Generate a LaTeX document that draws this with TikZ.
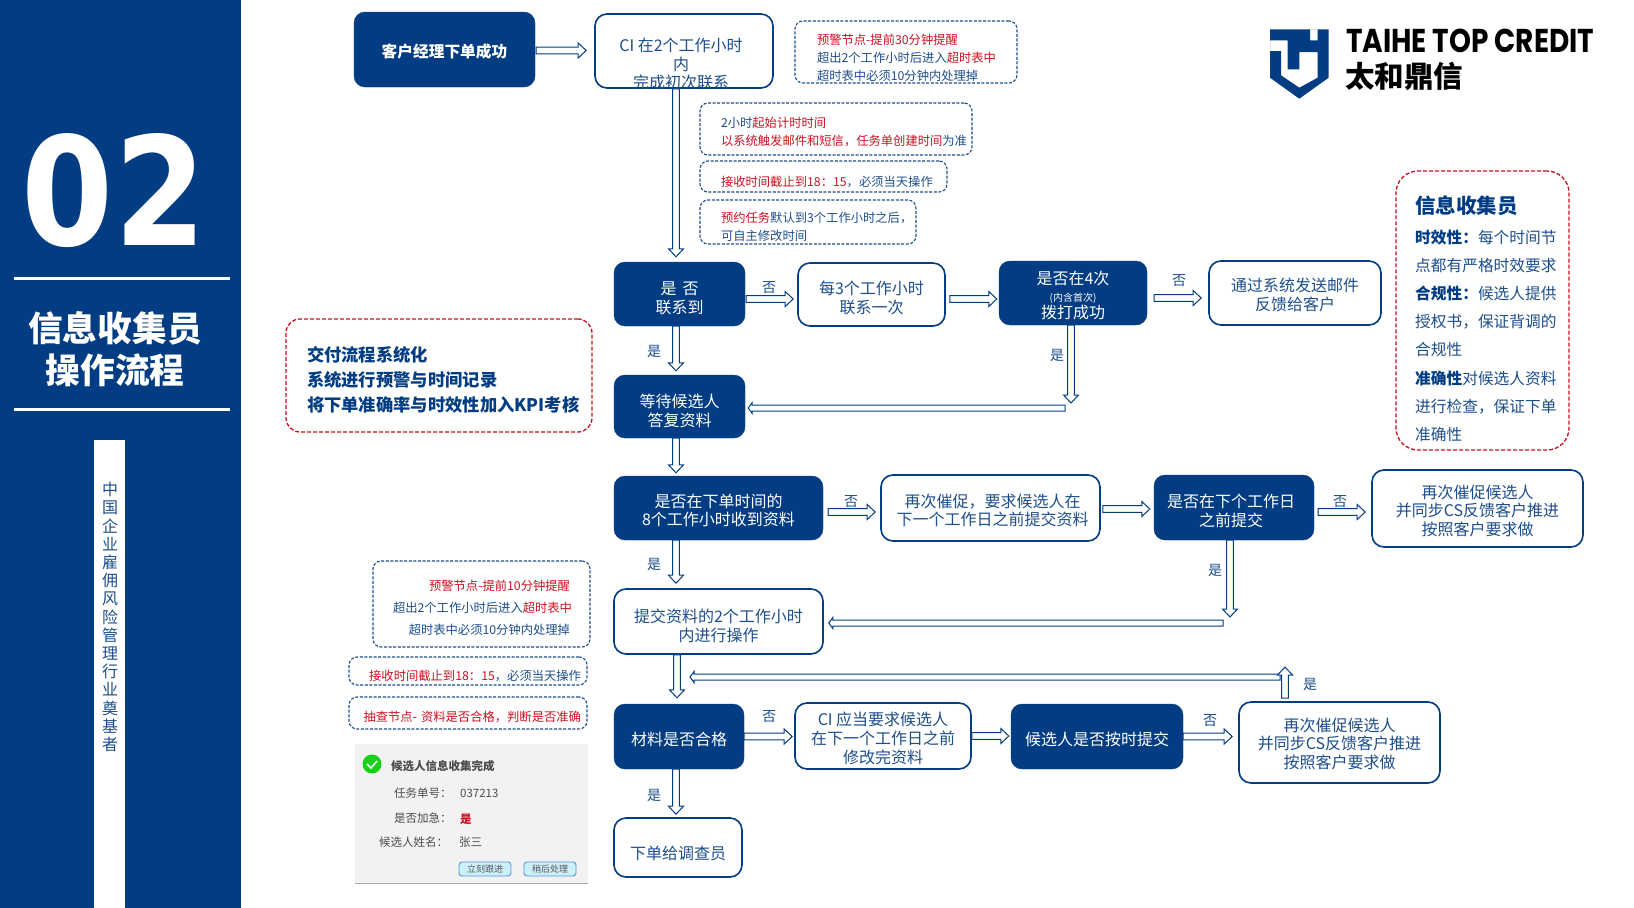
\documentclass[tikz,border=0pt]{standalone}
\usepackage{fontspec}
\usepackage{graphicx}
\usetikzlibrary{calc}
\setmainfont{Noto Sans CJK SC}
\newfontfamily\numf{DejaVu Sans}
\newfontfamily\logof{Poppins}
\definecolor{navy}{HTML}{023C82}
\definecolor{txt}{HTML}{1D4E8C}
\definecolor{redt}{HTML}{CC1122}
\definecolor{dred}{HTML}{C8101E}
\newcommand\rd[1]{\textcolor{redt}{#1}}
\newcommand\fsz[2]{\fontsize{#1}{#2}\selectfont}
\newcommand\dn[1]{\rule{0pt}{#1pt}}
\newcommand\bx[7]{%
  \pgfmathsetmacro\bxw{#5-#3}\pgfmathsetmacro\bxh{#6-#4}%
  \pgfmathsetmacro\bxcx{(#3+#5)/2}\pgfmathsetmacro\bxcy{(#4+#6)/2}%
  \node[minimum width=\bxw pt,minimum height=\bxh pt,inner sep=0pt,align=center,#2] (#1) at (\bxcx,\bxcy) {#7};}
\tikzset{
  x=1pt,y=-1pt,
  solidbox/.style={fill=navy,draw=navy,rounded corners=11pt,text=white,font=\fsz{16}{18.7}},
  linebox/.style={fill=white,draw=navy,line width=1.6pt,rounded corners=12pt,text=txt,font=\fsz{16}{18.7}},
  notebox/.style={draw=txt,line width=1.1pt,dash pattern=on 3pt off 1.6pt,rounded corners=8pt,text=txt,font=\fsz{12.3}{18}},
  redbox/.style={draw=dred,line width=1.3pt,dash pattern=on 4pt off 2pt,rounded corners=#1},
  ins/.style={text width={\bxw pt-2*#1pt}},
  blockar/.style n args={3}{fill=white,draw=navy,line width=1pt,line join=miter,
    to path={let \p8=(\tikztostart),\p9=(\tikztotarget),\p1=($(\p9)!#3pt!(\p8)$) in
      ($(\p8)!#1pt!90:(\p9)$) -- ($(\p1)!#1pt!90:(\p9)$) -- ($(\p1)!#2pt!90:(\p9)$) -- (\p9)
      -- ($(\p1)!#2pt!-90:(\p9)$) -- ($(\p1)!#1pt!-90:(\p9)$) -- ($(\p8)!#1pt!-90:(\p9)$) -- cycle}},
  blk/.style={blockar={3.4}{7.5}{8}},
  blkb/.style={blockar={3}{5.5}{4}},
  yn/.style={text=txt,font=\fsz{14}{16},inner sep=0pt},
  shot/.style={text=black!70,font=\fsz{11.5}{13},inner sep=0pt},
  btn/.style={fill=cyan!20!white,draw=cyan!60!blue!70,line width=.9pt,rounded corners=3pt,text=black!65,font=\fsz{9}{10}},
}
\begin{document}
\begin{tikzpicture}
\useasboundingbox (0,0) rectangle (1634,908);
\fill[white] (0,0) rectangle (1634,908);
% left panel
\fill[navy] (0,0) rectangle (241,908);
\fill[white] (14,277) rectangle (230,280);
\fill[white] (14,408) rectangle (230,411);
\fill[white] (94,440) rectangle (125,908);
\node[text=white,inner sep=0pt] (num) at (114,191) {\resizebox{184pt}{112pt}{\numf\bfseries 02}};
\node[text=white,inner sep=0pt,align=center,font=\bfseries\fsz{34.7}{42}] (ptitle) at (115,349) {信息收集员\\操作流程};
\node[text=txt,inner sep=0pt,align=center,font=\fsz{16}{18.2}] (vert) at (110,617) {中\\国\\企\\业\\雇\\佣\\风\\险\\管\\理\\行\\业\\奠\\基\\者};
% logo
\fill[navy,even odd rule] (1270,29.3) -- (1328.7,29.3) -- (1328.7,77.7) -- (1299.3,98.7) -- (1270,77.7) -- cycle
  (1310,29.3) -- (1317.7,29.3) -- (1317.7,40.3) -- (1310,40.3) -- cycle
  (1270,40.3) -- (1287.7,40.3) -- (1287.7,69.3) -- (1299.3,69.3) -- (1299.3,52) -- (1317.7,52) -- (1317.7,77.7) -- (1299.3,87.7) -- (1281,75.3) -- (1281,51) -- (1270,51) -- cycle;
\node[inner sep=0pt,anchor=west] (logotext) at (1346,41) {\resizebox{248pt}{23.5pt}{\logof\bfseries TAIHE TOP CREDIT}};
\node[inner sep=0pt,anchor=west,font=\bfseries\fsz{29.5}{30}] (logocn) at (1345,76) {太和鼎信};
% flow boxes
\bx{client}{solidbox,font=\bfseries\fsz{15.7}{18}}{354}{12}{535}{87}{\dn{18}客户经理下单成功}
\bx{ci}{linebox}{595}{14}{773}{88}{}
\node[text=txt,inner sep=0pt,align=center,font=\fsz{16}{18.75}] (citext) at (681,64) {CI 在2个工作小时\\内\\完成初次联系};
\bx{warnone}{notebox,align=left,ins=22}{795}{21}{1017}{83}{\dn{22}\rd{预警节点-提前30分钟提醒}\\超出2个工作小时后进入\rd{超时表中}\\超时表中必须10分钟内处理掉}
\bx{notetwo}{notebox,align=left,ins=21}{700}{103}{972}{155}{\dn{17}2小时\rd{起始计时时间}\\\rd{以系统触发邮件和短信，任务单创建时间}为准}
\bx{notethree}{notebox,align=left,ins=21}{700}{161}{947}{192}{\dn{21}\rd{接收时间截止到18：15}，必须当天操作}
\bx{notefour}{notebox,align=left,ins=21}{700}{200}{916}{244}{\dn{20}\rd{预约任务}默认到3个工作小时之后，\\可自主修改时间}
\bx{contact}{solidbox}{614}{262}{745}{326}{\dn{22}是\hspace{6pt}否\\联系到}
\bx{every}{linebox}{798}{263}{945}{326}{\dn{20}每3个工作小时\\联系一次}
\bx{four}{solidbox}{999}{261}{1147}{325}{\dn{18}是否在4次\\[-2pt]{\fsz{10}{11}(内含首次)}\\[-2pt]拨打成功}
\bx{mail}{linebox}{1209}{261}{1381}{325}{\dn{18}通过系统发送邮件\\反馈给客户}
\bx{role}{redbox=22pt}{1396}{171}{1569}{450}{}
\node[anchor=north west,inner sep=0pt,align=left,text=txt,font=\fsz{15.7}{28.2}] (roletext) at (1415,196) {{\bfseries\fsz{20.5}{28.2}\textcolor{navy}{信息收集员}}\\[1pt]
  \textbf{\textcolor{navy}{时效性：}}每个时间节\\点都有严格时效要求\\
  \textbf{\textcolor{navy}{合规性：}}候选人提供\\授权书，保证背调的\\合规性\\
  \textbf{\textcolor{navy}{准确性}}对候选人资料\\进行检查，保证下单\\准确性};
\bx{kpi}{redbox=14pt,align=left,ins=21,text=navy,font=\bfseries\fsz{17.3}{25}}{286}{319}{592}{432}{\dn{23.5}交付流程系统化\\系统进行预警与时间记录\\将下单准确率与时效性加入KPI考核}
\bx{wait}{solidbox}{614}{375}{745}{438}{\dn{22}等待候选人\\答复资料}
\bx{ask}{solidbox}{614}{476}{823}{540}{\dn{18}是否在下单时间的\\8个工作小时收到资料}
\bx{urge}{linebox}{881}{475}{1100}{541}{\dn{18}\hspace*{4pt}再次催促，要求候选人在\\\hspace*{4pt}下一个工作日之前提交资料}
\bx{nextd}{solidbox}{1154}{475}{1314}{540}{\dn{20}\hspace*{-6pt}是否在下个工作日\\\hspace*{-6pt}之前提交}
\bx{urgetwo}{linebox}{1372}{470}{1583}{547}{\dn{18}再次催促候选人\\并同步CS反馈客户推进\\按照客户要求做}
\bx{warntwo}{notebox,align=right,ins=20,font=\fsz{12.3}{22}}{373}{561}{590}{647}{\dn{19}\rd{预警节点-提前10分钟提醒}\\超出2个工作小时后进入\rd{超时表中}\\超时表中必须10分钟内处理掉}
\bx{notefive}{notebox,align=right,ins=6}{349}{657}{587}{685}{\dn{21}\rd{接收时间截止到18：15}，必须当天操作}
\bx{notesix}{notebox,align=right,ins=6}{349}{697}{587}{729}{\dn{19}\rd{抽查节点- 资料是否合格，判断是否准确}}
\bx{submit}{linebox}{614}{589}{823}{654}{\dn{22}提交资料的2个工作小时\\内进行操作}
\bx{check}{solidbox}{614}{704}{744}{769}{\dn{20}材料是否合格}
\bx{ciask}{linebox}{795}{703}{971}{769}{\dn{18}CI 应当要求候选人\\在下一个工作日之前\\修改完资料}
\bx{ontime}{solidbox}{1011}{704}{1183}{769}{\dn{20}候选人是否按时提交}
\bx{retry}{linebox}{1239}{702}{1440}{783}{\dn{16}再次催促候选人\\并同步CS反馈客户推进\\按照客户要求做}
\bx{dispatch}{linebox}{614}{818}{742}{877}{\dn{26}下单给调查员}
% screenshot
\fill[black!5] (355,744) rectangle (588,883);
\draw[black!35,line width=.8pt] (355,883) -- (588,883);
\node[circle,fill=green!80!black!90,minimum size=19pt,inner sep=0pt] (okicon) at (372,764) {};
\draw[white,line width=1.5pt] (367,764) -- (371,768) -- (377,761);
\node[shot,anchor=west,font=\bfseries\fsz{11.5}{13}] (shottitle) at (391,766) {候选人信息收集完成};
\node[shot,anchor=west] (shota) at (394,793) {任务单号：};
\node[shot,anchor=west] (shotb) at (460,793) {037213};
\node[shot,anchor=west] (shotc) at (394,818) {是否加急：};
\node[shot,anchor=west,text=redt,font=\bfseries\fsz{11.5}{13}] (shotd) at (460,819) {是};
\node[shot,anchor=west] (shote) at (379,842) {候选人姓名：};
\node[shot,anchor=west] (shotf) at (459,842) {张三};
\bx{btna}{btn}{459}{862}{511}{876}{立刻跟进}
\bx{btnb}{btn}{524}{862}{576}{876}{稍后处理}
% free ends
\coordinate (dropend) at (1071,403);
\coordinate (backone) at (1065,408);
\coordinate (dropendb) at (1230,617);
\coordinate (backtwo) at (1223,623);
\coordinate (backthree) at (1280,677);
\coordinate (backthreeend) at (690,677);
\coordinate (upstart) at (1285,698);
\coordinate (upend) at (1285,667);
% connectors
\draw[blk] ($(client.east)+(1,1)$) to ($(client.east -| ci.west)+(-8,1)$);
\draw[blk] ($(contact.north |- ci.south)+(-3.5,0)$) to ($(contact.north)+(-3.5,-5)$);
\draw[blk] ($(contact.east)+(1,5)$) to ($(contact.east -| every.west)+(-4,5)$);
\draw[blk] ($(every.east)+(4,4.5)$) to ($(every.east -| four.west)+(-2,4.5)$);
\draw[blk] ($(four.east)+(7,5)$) to ($(four.east -| mail.west)+(-7,5)$);
\draw[blk] ($(contact.south)+(-3.5,0)$) to ($(wait.north)+(-3.5,-4)$);
\draw[blk] ($(four.south)+(-2,0)$) to (dropend);
\draw[blkb] (backone) to ($(wait.east |- backone)+(3,0)$);
\draw[blk] ($(wait.south)+(-3.5,0)$) to ($(wait.south |- ask.north)+(-3.5,-3)$);
\draw[blk] ($(wait.south |- ask.south)+(-3.5,0)$) to ($(wait.south |- submit.north)+(-3.5,-5)$);
\draw[blk] ($(ask.east)+(5,4)$) to ($(ask.east -| urge.west)+(-5,4)$);
\draw[blk] ($(urge.east)+(2,1)$) to ($(urge.east -| nextd.west)+(-4,1)$);
\draw[blk] ($(nextd.east)+(4,4.5)$) to ($(nextd.east -| urgetwo.west)+(-6,4.5)$);
\draw[blk] ($(nextd.south)+(-4,0)$) to (dropendb);
\draw[blkb] (backtwo) to ($(submit.east |- backtwo)+(5,0)$);
\draw[blk] ($(check.north |- submit.south)+(-2,0)$) to ($(check.north)+(-2,-6)$);
\draw[blkb] (backthree) to (backthreeend);
\draw[blk] (upstart) to (upend);
\draw[blk] (check.east) to ($(check.east -| ciask.west)+(-2,0)$);
\draw[blk] (ciask.east) to ($(ciask.east -| ontime.west)+(-2,0)$);
\draw[blk] (ontime.east) to ($(ontime.east -| retry.west)+(-6,0)$);
\draw[blk] ($(check.south)+(-3,0)$) to ($(check.south |- dispatch.north)+(-3,-3)$);
% yes/no labels
\node[yn] (la) at (769,288) {否};
\node[yn] (lb) at (1179,281) {否};
\node[yn] (lc) at (654,351) {是};
\node[yn] (ld) at (1057,355) {是};
\node[yn] (le) at (851,502) {否};
\node[yn] (lf) at (1340,502) {否};
\node[yn] (lg) at (654,564) {是};
\node[yn] (lh) at (1215,570) {是};
\node[yn] (li) at (1310,684) {是};
\node[yn] (lj) at (769,717) {否};
\node[yn] (lk) at (1210,721) {否};
\node[yn] (ll) at (654,795) {是};
\end{tikzpicture}
\end{document}
